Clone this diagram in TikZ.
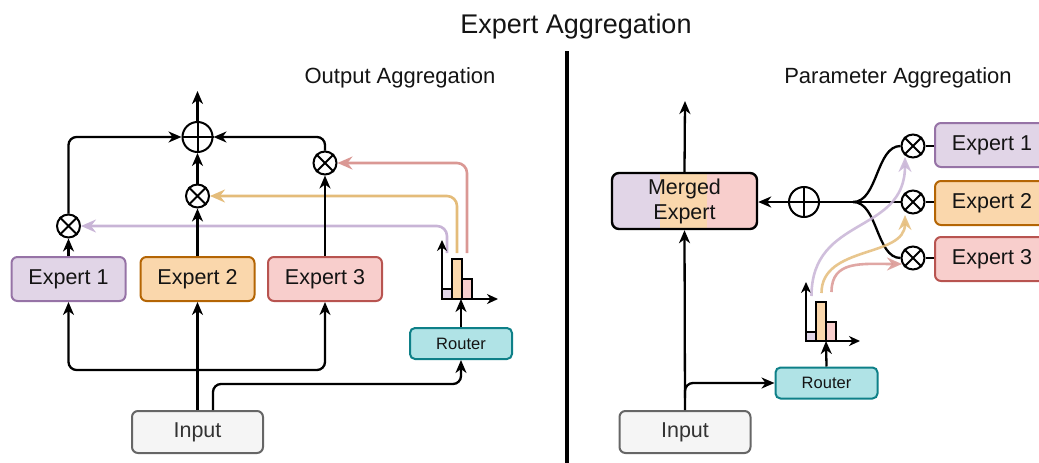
\documentclass[tikz,border=0pt]{standalone}
\usepackage{fontspec}
\setmainfont{Liberation Sans}
\usetikzlibrary{arrows.meta}
\definecolor{lavF}{HTML}{E1D5E7}\definecolor{lavD}{HTML}{9673A6}
\definecolor{orF}{HTML}{FAD7AC}\definecolor{orD}{HTML}{B46504}
\definecolor{redF}{HTML}{F8CECC}\definecolor{redD}{HTML}{B85450}
\definecolor{rtF}{HTML}{B0E3E6}\definecolor{rtD}{HTML}{0E8088}
\definecolor{inF}{HTML}{F5F5F5}\definecolor{inD}{HTML}{666666}
\definecolor{lavL}{RGB}{200,180,214}
\definecolor{orL}{RGB}{228,188,122}
\definecolor{redL}{RGB}{218,152,148}
\definecolor{txt}{RGB}{20,20,20}
\begin{document}
\begin{tikzpicture}[x=1pt,y=-1pt,
  box/.style={draw, rounded corners=6pt, line width=2pt, minimum width=114pt, minimum height=44pt, inner sep=0pt, text=txt, font=\fontsize{21.5}{24}\selectfont},
  lavbox/.style={box, fill=lavF, draw=lavD},
  orbox/.style={box, fill=orF, draw=orD},
  redbox/.style={box, fill=redF, draw=redD},
  rbox/.style={draw=rtD, fill=rtF, rounded corners=5pt, line width=2pt, minimum width=102pt, minimum height=31pt, inner sep=0pt, text=txt, font=\fontsize{16.5}{19}\selectfont},
  ibox/.style={draw=inD, fill=inF, rounded corners=6pt, line width=2pt, minimum width=131pt, minimum height=42pt, inner sep=0pt, text=black!80, font=\fontsize{21.5}{24}\selectfont},
  opl/.style={circle, draw, line width=2pt, minimum size=30pt, inner sep=0pt},
  otl/.style={circle, draw, line width=2pt, minimum size=23pt, inner sep=0pt},
  ln/.style={line width=2.3pt},
  mk/.style={line width=2pt},
  arr/.style={ln, -{Stealth[length=13pt,width=11pt,inset=4pt]}},
  axarr/.style={line width=2pt, -{Stealth[length=11pt,width=10pt,inset=3.5pt]}},
  bar/.style={line width=1.6pt},
  lavln/.style={line width=2.6pt, draw=lavL, -{Stealth[length=15pt,width=13pt,inset=5pt,fill=lavF!70!white]}},
  orln/.style={line width=2.6pt, draw=orL, -{Stealth[length=15pt,width=13pt,inset=5pt,fill=orF!70!white]}},
  redln/.style={line width=2.6pt, draw=redL, -{Stealth[length=15pt,width=13pt,inset=5pt,fill=redF!70!white]}},
  ttl/.style={text=txt, anchor=base},
]
\useasboundingbox (0,0) rectangle (1039,463);
\clip (0,0) rectangle (1039,463);

% titles
\node[ttl, font=\fontsize{27}{30}\selectfont] (title) at (576,34) {Expert Aggregation};
\node[ttl, font=\fontsize{22}{26}\selectfont] (st1) at (400,83) {Output Aggregation};
\node[ttl, font=\fontsize{22}{26}\selectfont] (st2) at (898,83) {Parameter Aggregation};
\coordinate (d1) at (567,51);
\coordinate (d2) at (567,463);
\draw[line width=3.6pt] (d1) -- (d2);

% ===== left panel =====
\node[lavbox] (e1) at (68.5,279) {Expert 1};
\node[orbox] (e2) at (197.5,279) {Expert 2};
\node[redbox] (e3) at (325,279) {Expert 3};
\node[rbox] (r1) at (461,343.5) {Router};
\node[ibox] (in1) at (197.5,432) {Input};
\node[opl] (p1) at (197.5,137) {};
\node[otl] (a1) at (68.5,226) {};
\node[otl] (a2) at (197.5,196) {};
\node[otl] (a3) at (325,163) {};

% colored weight lines (under black)
\coordinate (c1) at (447,253);
\coordinate (c2) at (457,253);
\coordinate (c3) at (467,253);
\draw[lavln, rounded corners=10pt] (c1) |- (a1.east);
\draw[orln, rounded corners=10pt] (c2) |- (a2.east);
\draw[redln, rounded corners=10pt] (c3) |- (a3.east);

% histogram left
\coordinate (h1) at (442,299);
\draw[bar, fill=lavF] (442,299) rectangle (452,289);
\draw[bar, fill=orF] (452,299) rectangle (462,259);
\draw[bar, fill=redF] (462,299) rectangle (472,279);
\coordinate (h1y) at (442,240);
\coordinate (h1x) at (498,299);
\draw[axarr] (h1) -- (h1y);
\draw[axarr] (h1) -- (h1x);
\coordinate (h1r) at (461,299);
\draw[arr] (r1.north) -- (h1r);

% black connectors
\draw[arr] (e1.north) -- (a1.south);
\draw[arr, rounded corners=8pt] (a1.north) |- (p1.west);
\draw[arr] (e2.north) -- (a2.south);
\draw[arr] (a2.north) -- (p1.south);
\draw[arr] (e3.north) -- (a3.south);
\draw[arr, rounded corners=8pt] (a3.north) |- (p1.east);
\coordinate (out1) at (197.5,91);
\draw[arr] (p1.north) -- (out1);
\draw[arr] (in1.north) -- (e2.south);
\coordinate (j1) at (197.5,370);
\draw[arr, rounded corners=8pt] (j1) -| (e1.south);
\draw[arr, rounded corners=8pt] (j1) -| (e3.south);
\draw[arr, rounded corners=8pt] ([xshift=15.5pt]in1.north) -- ++(0,-26) -| (r1.south);

% ===== right panel =====
\begin{scope}
  \clip[rounded corners=7pt] (612,173) rectangle (757,229);
  \fill[lavF] (612,173) rectangle (660,229);
  \fill[orF] (660,173) rectangle (707,229);
  \fill[redF] (707,173) rectangle (757,229);
\end{scope}
\node[draw, rounded corners=7pt, line width=2.4pt, minimum width=145pt, minimum height=56pt, inner sep=0pt, align=center, text=txt,
  font=\fontsize{21.5}{25}\selectfont] (m) at (684.5,201) {Merged\\Expert};
\node[ibox] (in2) at (685,432) {Input};
\node[rbox] (r2) at (826.5,383) {Router};
\node[opl] (p2) at (804,202) {};
\node[otl] (b1) at (913,146) {};
\node[otl] (b2) at (913,202) {};
\node[otl] (b3) at (913,258) {};
\node[lavbox] (f1) at (992,145) {Expert 1};
\node[orbox] (f2) at (992,203) {Expert 2};
\node[redbox] (f3) at (992,259) {Expert 3};

\draw[arr] (in2.north) -- (m.south);
\coordinate (j2) at (685,398);
\draw[arr, rounded corners=8pt] (j2) |- (r2.west);
\coordinate (out2) at (685,101);
\draw[arr] (m.north) -- (out2);
\draw[arr] (p2.west) -- (p2.west -| m.east);
\coordinate (br) at (853,202);
\draw[ln] (br) -- (p2.east);
\draw[ln] (br) -- (b2.west);
\draw[ln] (br) .. controls (878,202) and (876,146) .. (b1.west);
\draw[ln] (br) .. controls (878,202) and (876,258) .. (b3.west);
\draw[ln] (b1.east) -- (b1.east -| f1.west);
\draw[ln] (b2.east) -- (b2.east -| f2.west);
\draw[ln] (b3.east) -- (b3.east -| f3.west);

% circle marks
\foreach \n in {p1,p2} \draw[mk] (\n.north) -- (\n.south) (\n.west) -- (\n.east);
\foreach \n in {a1,a2,a3,b1,b2,b3} \draw[mk] (\n.north east) -- (\n.south west) (\n.north west) -- (\n.south east);

% histogram right
\coordinate (h2) at (806,341);
\draw[bar, fill=lavF] (806,341) rectangle (816,332);
\draw[bar, fill=orF] (816,341) rectangle (826,302);
\draw[bar, fill=redF] (826,341) rectangle (836,322);
\coordinate (h2y) at (806,282);
\coordinate (h2x) at (860,341);
\draw[axarr] (h2) -- (h2y);
\draw[axarr] (h2) -- (h2x);
\coordinate (h2r) at (826,341);
\draw[arr] (r2.north) -- (h2r);

% colored curves right
\coordinate (g1) at (811.5,296);
\coordinate (g2) at (821.5,293);
\coordinate (g3) at (831.5,292);
\coordinate (t1) at (905,157);
\coordinate (t2) at (905,215);
\coordinate (t3) at (902,264);
\draw[lavln, draw opacity=0.85] (g1) .. controls (811.5,215) and (905,235) .. (t1);
\draw[orln, draw opacity=0.85] (g2) .. controls (821.5,245) and (905,258) .. (t2);
\draw[redln, draw opacity=0.85] (g3) .. controls (831.5,260) and (862,264) .. (t3);
\end{tikzpicture}
\end{document}
